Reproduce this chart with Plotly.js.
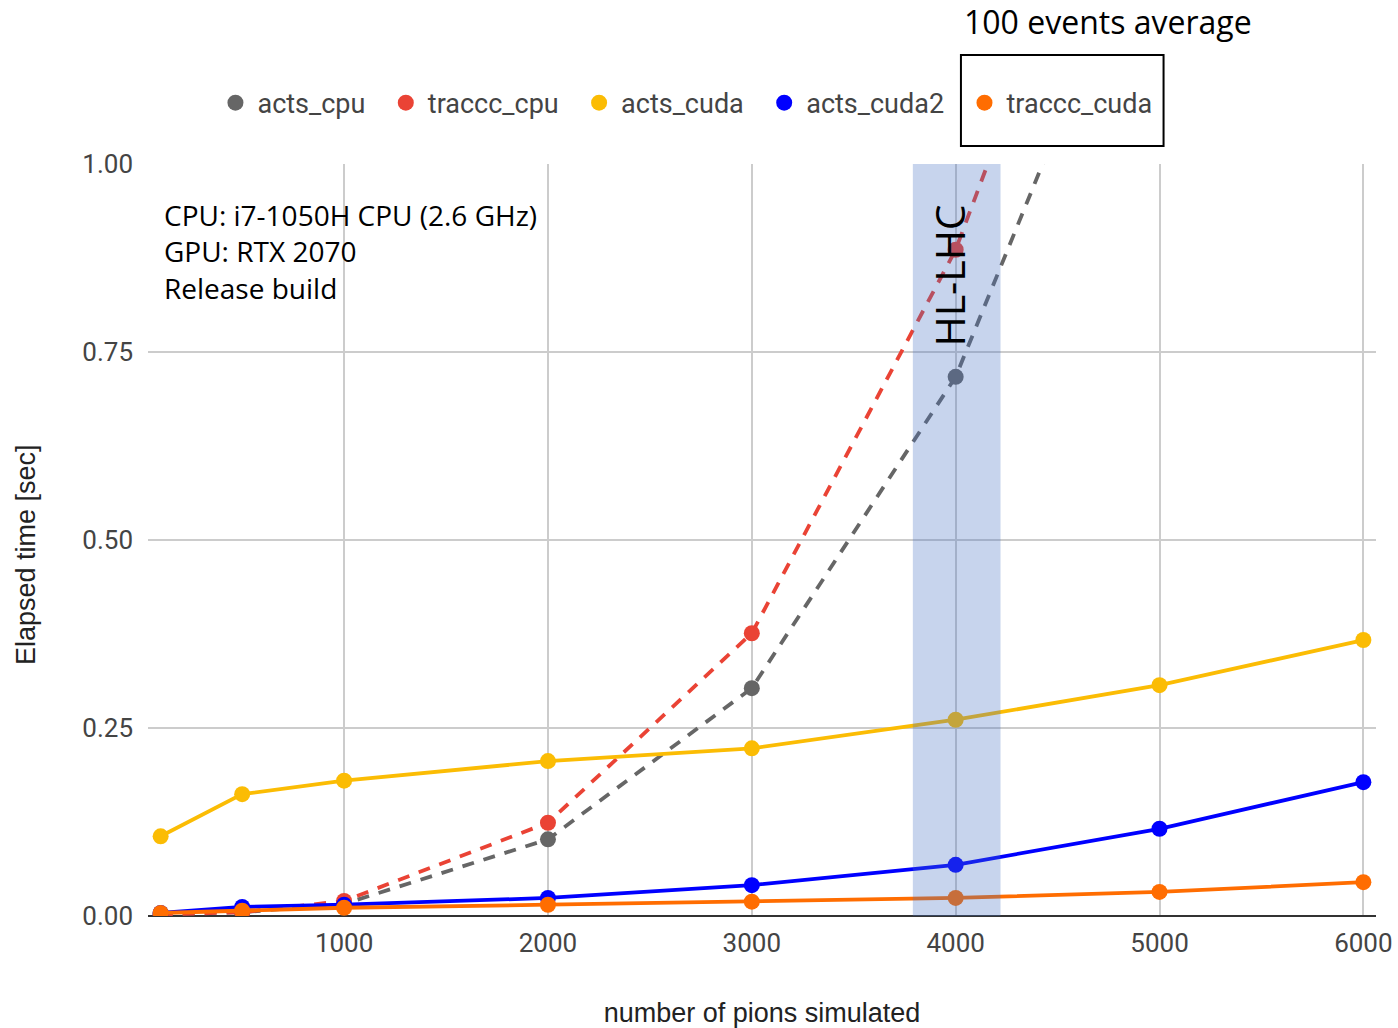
<!DOCTYPE html>
<html>
<head>
<meta charset="utf-8">
<script src="https://cdn.plot.ly/plotly-3.0.1.min.js"></script>
<style>html,body{margin:0;padding:0;background:#fff;}#chart{width:1398px;height:1028px;}</style>
</head>
<body>
<div id="chart"></div>
<script>
// Data
const pions = [100, 500, 1000, 2000, 3000, 4000, 5000, 6000];
const pionsCpu = [100, 500, 1000, 2000, 3000, 4000, 5000];
const actsCpu = [0.003, 0.005, 0.016, 0.102, 0.303, 0.717, 1.38];
const tracccCpu = [0.002, 0.005, 0.020, 0.124, 0.376, 0.886, 1.61];
const actsCuda = [0.106, 0.162, 0.180, 0.206, 0.223, 0.261, 0.307, 0.367];
const actsCuda2 = [0.004, 0.012, 0.015, 0.024, 0.041, 0.068, 0.116, 0.178];
const tracccCuda = [0.004, 0.007, 0.011, 0.015, 0.019, 0.024, 0.032, 0.045];
const seriesNames = ["acts_cpu", "traccc_cpu", "acts_cuda", "acts_cuda2", "traccc_cuda"];
const xTicks = [1000, 2000, 3000, 4000, 5000, 6000];
const yTicks = [0, 0.25, 0.5, 0.75, 1.0];
const yTickText = ["0.00", "0.25", "0.50", "0.75", "1.00"];
const hlBand = [3790, 4220];

const colors = ["#666666", "#ea4335", "#fbbc04", "#0000ff", "#ff6d01"];

function tr(x, y, i, dash) {
  return {
    x: x, y: y, name: seriesNames[i], type: "scatter", mode: "lines+markers",
    line: {color: colors[i], width: 3.8, dash: dash},
    marker: {color: colors[i], size: 16},
    showlegend: false, legendgroup: seriesNames[i]
  };
}
function legendEntry(i) {
  return {
    x: [null], y: [null], name: seriesNames[i] + "\u00a0\u00a0", type: "scatter", mode: "markers",
    marker: {color: colors[i], size: 20}, showlegend: true, legendgroup: seriesNames[i]
  };
}

const data = [
  tr(pionsCpu, actsCpu, 0, "12px,10px"),
  tr(pionsCpu, tracccCpu, 1, "12px,10px"),
  tr(pions, actsCuda, 2, "solid"),
  tr(pions, actsCuda2, 3, "solid"),
  tr(pions, tracccCuda, 4, "solid"),
  legendEntry(0), legendEntry(1), legendEntry(2), legendEntry(3), legendEntry(4)
];

const layout = {
  width: 1398, height: 1028,
  margin: {l: 148, r: 22, t: 164, b: 112},
  paper_bgcolor: "#fff", plot_bgcolor: "#fff",
  font: {family: "Roboto, Arial, sans-serif", color: "#444"},
  showlegend: true,
  legend: {
    orientation: "h", x: 0.0533, xanchor: "left", y: 1.081, yref: "paper",
    xref: "paper", yanchor: "middle", bgcolor: "rgba(0,0,0,0)",
    font: {size: 27, color: "#444", family: "Roboto, Arial, sans-serif"},
    itemsizing: "trace", itemwidth: 34, tracegroupgap: 0
  },
  xaxis: {
    range: [38, 6062], tickvals: xTicks, ticktext: xTicks.map(String),
    showgrid: true, gridcolor: "#cccccc", gridwidth: 1.5,
    zeroline: false, showline: false, ticks: "",
    tickfont: {size: 26, color: "#444"}, ticklabelstandoff: 9,
    title: {text: "number of pions simulated", font: {size: 27, color: "#222", family: "Liberation Sans, Arial, sans-serif"}, standoff: 49}
  },
  yaxis: {
    range: [0, 1.0], tickvals: yTicks, ticktext: yTickText,
    showgrid: true, gridcolor: "#cccccc", gridwidth: 1.5,
    zeroline: true, zerolinecolor: "#333", zerolinewidth: 2,
    ticks: "", tickfont: {size: 26, color: "#444"}, ticklabelstandoff: 14
  },
  shapes: [
    {type: "rect", xref: "x", yref: "paper", x0: hlBand[0], x1: hlBand[1], y0: 0, y1: 1,
     fillcolor: "rgba(68,114,196,0.3)", line: {width: 0}, layer: "above"},
    {type: "rect", xref: "paper", yref: "paper", x0: 0.662, x1: 0.827, y0: 1.024, y1: 1.145,
     line: {color: "#000", width: 2}, fillcolor: "rgba(0,0,0,0)"}
  ],
  annotations: [
    {xref: "paper", yref: "paper", x: -0.0993, y: 0.48, textangle: -90, showarrow: false,
     xanchor: "center", yanchor: "middle", text: "Elapsed time [sec]",
     font: {family: "Liberation Sans, Arial, sans-serif", size: 27, color: "#222"}},
    {xref: "paper", yref: "paper", x: 0.011, y: 0.96, xanchor: "left", yanchor: "top",
     align: "left", showarrow: false,
     text: "CPU: i7-1050H CPU (2.6 GHz)<br>GPU: RTX 2070<br>Release build",
     font: {family: "Open Sans, sans-serif", size: 28, color: "#000"}},
    {xref: "x", yref: "y", x: 3970, y: 0.851, textangle: -90, showarrow: false,
     text: "HL-LHC", font: {family: "Open Sans, sans-serif", size: 41, color: "#000"}},
    {xref: "paper", yref: "paper", x: 0.663, y: 1.189, xanchor: "left", yanchor: "middle",
     showarrow: false, text: "100 events average",
     font: {family: "Open Sans, sans-serif", size: 32, color: "#000"}}
  ]
};

Plotly.newPlot("chart", data, layout, {displayModeBar: false, responsive: false});
</script>
</body>
</html>
